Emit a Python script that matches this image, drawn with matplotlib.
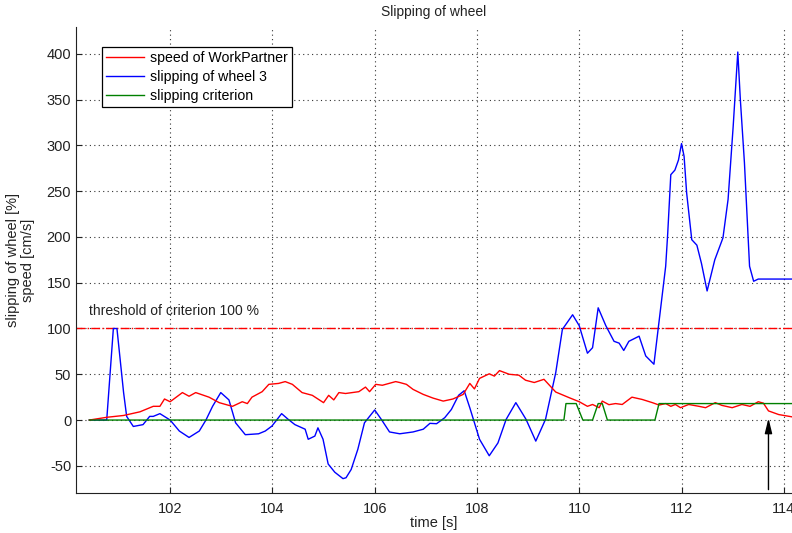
import matplotlib
matplotlib.use("Agg")
import matplotlib.pyplot as plt

plt.rcParams['font.family'] = ['Liberation Sans', 'DejaVu Sans']
plt.rcParams['axes.unicode_minus'] = False

# speed of WorkPartner [cm/s]
speed_t = [100.42, 100.76, 101.09, 101.41, 101.67, 101.80, 101.89, 102.00, 102.24, 102.37,
           102.50, 102.76, 102.96, 103.15, 103.22, 103.41, 103.51, 103.60, 103.80, 103.93,
           104.12, 104.25, 104.39, 104.58, 104.78, 105.00, 105.10, 105.20, 105.30, 105.43,
           105.56, 105.69, 105.82, 105.90, 106.02, 106.15, 106.28, 106.41, 106.49, 106.62,
           106.75, 106.95, 107.14, 107.34, 107.53, 107.73, 107.86, 107.95, 108.05, 108.24,
           108.34, 108.44, 108.63, 108.82, 108.95, 109.12, 109.31, 109.54, 109.80, 110.00,
           110.16, 110.26, 110.39, 110.45, 110.58, 110.71, 110.84, 111.03, 111.23, 111.43,
           111.56, 111.69, 111.79, 111.88, 111.98, 112.14, 112.34, 112.47, 112.66, 112.79,
           112.99, 113.18, 113.34, 113.50, 113.60, 113.70, 113.90, 114.16]
speed_v = [0, 3, 5, 9, 15, 15, 23, 20, 30, 26,
           30, 25, 19, 16, 15, 20, 18, 25, 31, 39,
           40, 42, 39, 30, 27, 19, 27, 22, 30, 29,
           30, 31, 36, 31, 39, 38, 40, 42, 41, 39,
           33.5, 28, 24, 20.7, 23, 28, 40, 34, 45.5, 50.5,
           48, 54, 50, 49, 43.5, 41, 44.5, 30.6, 24.5, 20,
           15, 17, 13.5, 20.7, 16.8, 18, 17, 25, 22.5, 19,
           16.4, 18, 15, 17, 13.5, 17, 15, 13.5, 19, 16,
           13.5, 17, 15, 20, 18.5, 10, 6, 3.5]

# slipping of wheel 3 [%]
slip_t = [100.42, 100.76, 100.89, 100.96, 101.09, 101.15, 101.28, 101.47, 101.60, 101.67,
          101.80, 102.00, 102.18, 102.37, 102.57, 102.70, 102.83, 102.99, 103.15, 103.28,
          103.47, 103.73, 103.86, 103.99, 104.18, 104.31, 104.44, 104.64, 104.70, 104.83,
          104.89, 104.99, 105.09, 105.22, 105.38, 105.44, 105.54, 105.67, 105.80, 106.00,
          106.13, 106.29, 106.49, 106.75, 106.95, 107.08, 107.21, 107.37, 107.50, 107.64,
          107.75, 107.86, 108.05, 108.24, 108.41, 108.57, 108.76, 108.96, 109.15, 109.34,
          109.54, 109.67, 109.87, 110.00, 110.16, 110.26, 110.37, 110.52, 110.68, 110.78,
          110.87, 110.97, 111.17, 111.30, 111.46, 111.69, 111.73, 111.79, 111.87, 111.94,
          112.00, 112.05, 112.10, 112.20, 112.30, 112.39, 112.50, 112.65, 112.81, 112.91,
          113.01, 113.10, 113.15, 113.23, 113.33, 113.41, 113.50, 114.16]
slip_v = [0, 0, 100, 100, 30, 4, -7, -5, 4, 4,
          7, 0, -12, -19, -12, 0, 15, 30, 22, -3,
          -16, -15, -12, -6.6, 7, 0.7, -5, -10, -21, -17.5,
          -8.5, -21, -48, -57, -64, -63, -54, -32, -3, 11,
          0.7, -13, -15, -13, -10, -3.6, -4, 2.6, 11.6, 27,
          32, 13.4, -21, -39, -25, 0.7, 19, 0.7, -23, 0.7,
          51.7, 99, 115, 103, 73, 79, 122.6, 103, 86, 84,
          76, 86, 91.6, 70, 61, 168, 204, 268, 273, 284,
          302, 288, 248, 197, 191, 171, 141, 175, 199, 241,
          321, 402, 350, 281, 168, 151.6, 154, 154]

# slipping criterion
crit_t = [100.42, 109.70, 109.74, 109.94, 110.07, 110.26, 110.37, 110.45, 110.55, 111.48,
          111.56, 114.16]
crit_v = [0, 0, 18, 18, 0, 0, 18, 18, 0, 0,
          18, 18]

threshold = 100
arrow_t = 113.70
x_ticks = [102, 104, 106, 108, 110, 112, 114]
y_ticks = [-50, 0, 50, 100, 150, 200, 250, 300, 350, 400]

fig = plt.figure(figsize=(7.92, 5.33), dpi=100)
ax = fig.add_axes([0.096, 0.0745, 0.904, 0.8743])

ax.plot(speed_t, speed_v, color='#ff0000', lw=1.0, label='speed of WorkPartner', zorder=4)
ax.plot(slip_t, slip_v, color='#0000ff', lw=1.0, label='slipping of wheel 3', zorder=3)
ax.plot(crit_t, crit_v, color='#008000', lw=1.0, label='slipping criterion', zorder=5)
ax.axhline(threshold, color='#ff0000', lw=1.0, linestyle='-.', zorder=2)
ax.text(100.42, 119, 'threshold of criterion 100 %', fontsize=10, va='center', ha='left',
        color='#222222')

ax.annotate('', xy=(arrow_t, 2), xytext=(arrow_t, -76),
            arrowprops=dict(arrowstyle='-|>,head_length=0.9,head_width=0.22',
                            color='k', lw=1.0, shrinkA=0, shrinkB=0))

ax.set_xlim(100.16, 114.16)
ax.set_ylim(-80, 429)
ax.set_xticks(x_ticks)
ax.set_yticks(y_ticks)
ax.tick_params(direction='in', length=4, labelsize=10.5, colors='#222222')
ax.tick_params(axis='x', pad=6)
ax.grid(True, linestyle=(0, (1, 3)), color='#333333', lw=0.8)
ax.set_axisbelow(True)
for side in ('top', 'right'):
    ax.spines[side].set_visible(False)
for side in ('left', 'bottom'):
    ax.spines[side].set_color('#222222')

ax.set_title('Slipping of wheel', fontsize=10, pad=8, color='#222222')
ax.set_xlabel('time [s]', fontsize=10.5, labelpad=0.5, color='#222222')
ax.set_ylabel('slipping of wheel [%]\nspeed [cm/s]', fontsize=10.5, labelpad=8,
              color='#222222', linespacing=1.15)

leg = ax.legend(loc='upper left', bbox_to_anchor=(0.036, 0.958), borderaxespad=0,
                fontsize=10.2, frameon=True, fancybox=False, framealpha=1,
                edgecolor='k', handlelength=2.7, handletextpad=0.4,
                labelspacing=0.35, borderpad=0.3)
leg.get_frame().set_linewidth(0.9)

fig.savefig('out.png', dpi=100)
